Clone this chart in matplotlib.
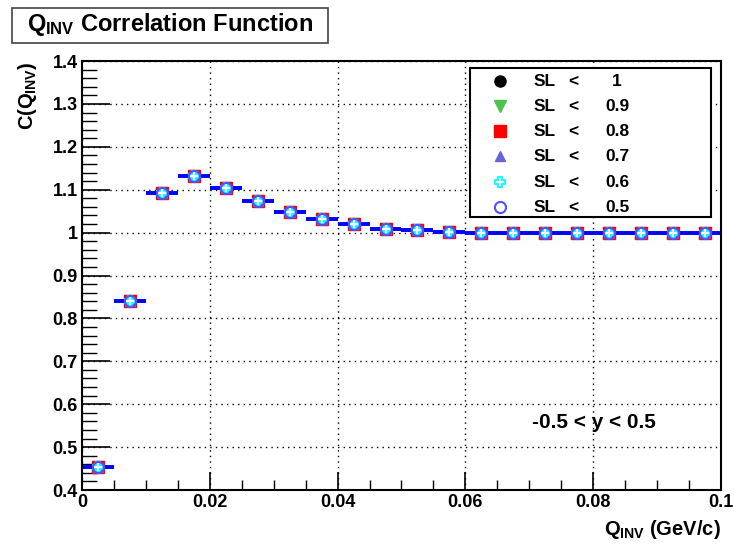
import numpy as np
import matplotlib
matplotlib.use("Agg")
import matplotlib.pyplot as plt
from matplotlib.patches import Rectangle
from matplotlib.lines import Line2D

plt.rcParams["font.family"] = ["Liberation Sans", "DejaVu Sans"]
plt.rcParams["font.weight"] = "bold"
plt.rcParams["mathtext.fontset"] = "custom"
plt.rcParams["mathtext.rm"] = "Liberation Sans:bold"
plt.rcParams["mathtext.it"] = "Liberation Sans:bold"
plt.rcParams["mathtext.bf"] = "Liberation Sans:bold"

# data
qinv = [0.0025, 0.0075, 0.0125, 0.0175, 0.0225, 0.0275, 0.0325, 0.0375, 0.0425, 0.0475,
        0.0525, 0.0575, 0.0625, 0.0675, 0.0725, 0.0775, 0.0825, 0.0875, 0.0925, 0.0975]
bin_half = 0.0025
c_qinv = [0.454, 0.840, 1.093, 1.131, 1.104, 1.073, 1.048, 1.031, 1.020, 1.009,
          1.005, 1.002, 1.000, 0.999, 0.999, 0.999, 0.999, 0.999, 0.999, 1.000]
sl_cuts = ["1", "0.9", "0.8", "0.7", "0.6", "0.5"]

styles = [
    dict(marker="o", mfc="black", mec="black", ms=8),
    dict(marker="v", mfc="#4cc44c", mec="#4cc44c", ms=8),
    dict(marker="s", mfc="red", mec="red", ms=8.5),
    dict(marker="^", mfc="#6464dc", mec="#6464dc", ms=7),
    dict(marker="P", mfc="white", mec="#00ffff", ms=7.5, mew=1.3),
    dict(marker="o", mfc="none", mec="#5050ff", ms=8, mew=1.5),
]
ecolors = ["black", "#4cc44c", "red", "#6464dc", "#00ffff", "blue"]

fig = plt.figure(figsize=(7.34, 5.45), dpi=100)
ax = fig.add_axes([0.1117, 0.1009, 0.8706, 0.7871])

for cut, st, ec in zip(sl_cuts, styles, ecolors):
    ax.errorbar(qinv, c_qinv, xerr=bin_half, fmt="none", ecolor=ec, elinewidth=2.8, capsize=0, zorder=2)
for cut, st in zip(sl_cuts, styles):
    ax.plot(qinv, c_qinv, ls="none", zorder=3, **st)

ax.set_xlim(0, 0.1)
ax.set_ylim(0.4, 1.4)
ax.set_xticks(np.arange(0, 0.1001, 0.02))
ax.set_xticklabels(["0", "0.02", "0.04", "0.06", "0.08", "0.1"])
ax.set_xticks(np.arange(0, 0.1001, 0.005), minor=True)
ax.set_yticks(np.arange(0.4, 1.401, 0.1))
ax.set_yticklabels(["0.4", "0.5", "0.6", "0.7", "0.8", "0.9", "1", "1.1", "1.2", "1.3", "1.4"])
ax.set_yticks(np.arange(0.4, 1.401, 0.02), minor=True)
ax.tick_params(axis="x", which="major", direction="in", length=13, width=1.2, labelsize=13, pad=3)
ax.tick_params(axis="x", which="minor", direction="in", length=7, width=1)
ax.tick_params(axis="y", which="major", direction="in", length=20, width=1.2, labelsize=13, pad=3)
ax.tick_params(axis="y", which="minor", direction="in", length=11, width=1)
ax.grid(True, which="major", ls=(0, (1, 3)), color="black", lw=1)
for s in ax.spines.values():
    s.set_linewidth(1.5)

ax.set_xlabel(r"$Q_{INV}$ (GeV/c)", fontsize=14.5, fontweight="bold")
ax.xaxis.set_label_coords(1.0, -0.065)
ax.xaxis.label.set_ha("right")
ax.set_ylabel(r"C($Q_{INV}$)", fontsize=14.5, fontweight="bold")
ax.yaxis.set_label_coords(-0.068, 1.0)
ax.yaxis.label.set_ha("right")

ax.text(0.801, 0.157, "-0.5 < y < 0.5", transform=ax.transAxes, ha="center", va="center",
        fontsize=15, fontweight="bold")

# legend box
lx0, lx1 = (470 - 82) / 639, (711 - 82) / 639
ly0, ly1 = (490 - 217) / 429, (490 - 68) / 429
ax.add_patch(Rectangle((lx0, ly0), lx1 - lx0, ly1 - ly0, transform=ax.transAxes,
                       facecolor="white", edgecolor="black", lw=1.5, zorder=5))
row_y = [81, 106, 131, 156, 182, 207]
for ry, cut, st in zip(row_y, sl_cuts, styles):
    yy = (490 - ry) / 429
    ax.add_line(Line2D([(500 - 82) / 639], [yy], transform=ax.transAxes, ls="none",
                       zorder=6, **st))
    ax.text((545 - 82) / 639, yy, "SL", transform=ax.transAxes, ha="center", va="center",
            fontsize=12.5, fontweight="bold", zorder=6)
    ax.text((573 - 82) / 639, yy, "<", transform=ax.transAxes, ha="center", va="center",
            fontsize=12.5, fontweight="bold", zorder=6)
    ax.text((617 - 82) / 639, yy, cut, transform=ax.transAxes, ha="center", va="center",
            fontsize=12.5, fontweight="bold", zorder=6)

# title box
fig.add_artist(Rectangle((12 / 734, 1 - 43 / 545), 316 / 734, 35 / 545, transform=fig.transFigure,
                         facecolor="white", edgecolor="#444444", lw=1.2))
fig.text(170 / 734, 1 - 25 / 545, r"$Q_{INV}$ Correlation Function", fontsize=17, fontweight="bold",
         ha="center", va="center")

fig.savefig("out.png", dpi=100)
